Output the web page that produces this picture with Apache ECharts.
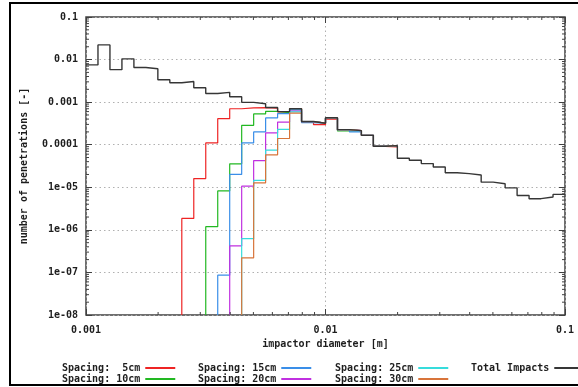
<!DOCTYPE html>
<html>
<head>
<meta charset="utf-8">
<script src="https://cdn.jsdelivr.net/npm/echarts@6/dist/echarts.min.js"></script>
<style>
  html, body { margin: 0; padding: 0; background: #fff; }
  #chart { width: 578px; height: 387px; }
</style>
</head>
<body>
<div id="chart"></div>
<script>
// Histogram binning: 20 logarithmic bins per decade from 1 mm to 10 cm
const binsPerDecade = 20;
const diameterMin = 0.001;
const diameterMax = 0.1;
const penetrationFloor = 1e-8;
const penetrationCeil = 0.1;
const binCount = 40;

// Total impacts per bin
const totalImpacts = [
  0.0075, 0.0221, 0.0058, 0.0104, 0.0065, 0.0061, 0.00335, 0.00285, 0.00306, 0.00217,
  0.0016, 0.0017, 0.00134, 0.00099, 0.00092, 0.00075, 0.00060, 0.0007, 0.00035, 0.00032,
  0.00043, 0.000226, 0.000214, 0.000166, 0.0000918, 0.000095, 0.000048, 0.000043, 0.000036, 0.00003,
  0.0000219, 0.0000209, 0.0000194, 0.0000132, 0.0000121, 0.0000097, 0.0000064, 0.0000054, 0.0000059, 0.0000068
];

// Penetrations per bin for each shield spacing (null = no penetrations)
const spacing5cm = [
  null, null, null, null, null, null, null, null,
  1.86e-6, 1.6e-5, 1.1e-4, 4.1e-4, 7.0e-4, 7.3e-4, 7.4e-4, 7.2e-4, 5.9e-4, 7.1e-4,
  3.5e-4, 2.95e-4, 4.0e-4, 2.26e-4, 2.14e-4, 1.66e-4, 9.18e-5, 8.9e-5
];
const spacing10cm = [
  null, null, null, null, null, null, null, null, null, null,
  1.19e-6, 8.2e-6, 3.55e-5, 2.85e-4, 5.3e-4, 6.1e-4, 5.7e-4, 6.9e-4,
  3.5e-4, 3.2e-4, 4.3e-4, 2.1e-4, 2.14e-4, 1.66e-4, 9.18e-5, 9.5e-5
];
const spacing15cm = [
  null, null, null, null, null, null, null, null, null, null, null,
  8.6e-8, 2.0e-5, 1.1e-4, 2.0e-4, 4.25e-4, 5.4e-4, 6.6e-4,
  3.3e-4, 3.2e-4, 4.3e-4, 2.26e-4, 2.0e-4, 1.66e-4, 9.18e-5, 9.5e-5
];
const spacing20cm = [
  null, null, null, null, null, null, null, null, null, null, null, null,
  4.2e-7, 1.06e-5, 4.25e-5, 1.9e-4, 3.4e-4, 6.2e-4,
  3.5e-4, 3.2e-4, 4.3e-4, 2.26e-4, 2.14e-4, 1.66e-4, 9.18e-5, 9.5e-5
];
const spacing25cm = [
  null, null, null, null, null, null, null, null, null, null, null, null, null,
  6.2e-7, 1.45e-5, 7.5e-5, 2.3e-4, 5.9e-4,
  3.5e-4, 3.2e-4, 4.3e-4, 2.26e-4, 2.14e-4, 1.66e-4, 9.18e-5, 9.5e-5
];
const spacing30cm = [
  null, null, null, null, null, null, null, null, null, null, null, null, null,
  2.2e-7, 1.27e-5, 5.8e-5, 1.4e-4, 5.5e-4,
  3.5e-4, 3.2e-4, 4.3e-4, 2.26e-4, 2.14e-4, 1.66e-4, 9.18e-5, 9.5e-5
];

const seriesNames = [
  'Spacing:  5cm', 'Spacing: 10cm', 'Spacing: 15cm',
  'Spacing: 20cm', 'Spacing: 25cm', 'Spacing: 30cm', 'Total Impacts'
];
const seriesValues = [spacing5cm, spacing10cm, spacing15cm, spacing20cm, spacing25cm, spacing30cm, totalImpacts];
const seriesColors = ['#ee2424', '#22b822', '#3a8ee8', '#c030e0', '#36dcdc', '#d8743a', '#363636'];

// Minor tick multipliers on the log axes
const minorMultipliers = [2, 3, 4, 5, 6, 7, 8, 9];

const binEdges = [];
for (let k = 0; k <= binCount; k++) {
  binEdges.push(diameterMin * Math.pow(10, k / binsPerDecade));
}

// Turn per-bin values into step-line points (left edges, closing right edge)
function histogramPoints(values) {
  const pts = [];
  let first = values.findIndex(v => v !== null);
  let last = first;
  for (let k = first; k < values.length; k++) {
    if (values[k] === null) break;
    last = k;
  }
  if (first > 0) pts.push([binEdges[first], penetrationFloor]);
  for (let k = first; k <= last; k++) pts.push([binEdges[k], values[k]]);
  pts.push([binEdges[last + 1], values[last]]);
  return pts;
}

function decadeLabel(v) {
  const e = Math.round(Math.log10(v));
  if (e >= -4) return Math.pow(10, e).toFixed(-e);
  return '1e-0' + (-e);
}

const xMinorValues = [];
const yMinorValues = [];
for (let d = Math.log10(diameterMin); d < Math.log10(diameterMax); d++) {
  minorMultipliers.forEach(m => xMinorValues.push(m * Math.pow(10, d)));
}
for (let d = Math.log10(penetrationFloor); d < Math.log10(penetrationCeil); d++) {
  minorMultipliers.forEach(m => yMinorValues.push(m * Math.pow(10, d)));
}

const font = 'DejaVu Sans Mono';
const textColor = '#1e1e1e';
const borderColor = '#404040';

const lineSeries = seriesNames.map((name, i) => ({
  name: name,
  type: 'line',
  step: 'end',
  data: histogramPoints(seriesValues[i]),
  showSymbol: false,
  symbol: 'none',
  color: seriesColors[i],
  lineStyle: { width: i === 6 ? 1.4 : 1.2, color: seriesColors[i] },
  z: 3 + i,
  silent: true,
  clip: true
}));

const minorTickSeries = [
  {
    type: 'custom',
    silent: true,
    z: 10,
    data: xMinorValues.map(v => [v, penetrationFloor]),
    renderItem: function (params, api) {
      const cs = params.coordSys;
      const x = api.coord([api.value(0), api.value(1)])[0];
      const style = { stroke: borderColor, lineWidth: 1 };
      return {
        type: 'group',
        children: [
          { type: 'line', shape: { x1: x, y1: cs.y + cs.height, x2: x, y2: cs.y + cs.height - 3 }, style: style },
          { type: 'line', shape: { x1: x, y1: cs.y, x2: x, y2: cs.y + 3 }, style: style }
        ]
      };
    }
  },
  {
    type: 'custom',
    silent: true,
    z: 10,
    data: yMinorValues.map(v => [diameterMin, v]),
    renderItem: function (params, api) {
      const cs = params.coordSys;
      const y = api.coord([api.value(0), api.value(1)])[1];
      const style = { stroke: borderColor, lineWidth: 1 };
      return {
        type: 'group',
        children: [
          { type: 'line', shape: { x1: cs.x, y1: y, x2: cs.x + 3, y2: y }, style: style },
          { type: 'line', shape: { x1: cs.x + cs.width, y1: y, x2: cs.x + cs.width - 3, y2: y }, style: style }
        ]
      };
    }
  }
];

const legendText = { fontFamily: font, fontWeight: 'bold', fontSize: 10, color: textColor, lineHeight: 11 };
function legendColumn(left, names) {
  return {
    left: left, top: 362.5, orient: 'vertical', align: 'right',
    padding: 0, itemGap: 0, itemWidth: 30, itemHeight: 2, icon: 'rect',
    selectedMode: false, data: names, textStyle: legendText
  };
}

const chart = echarts.init(document.getElementById('chart'), null, { renderer: 'canvas' });
chart.setOption({
  animation: false,
  backgroundColor: '#ffffff',
  grid: {
    left: 86, right: 13, top: 17, bottom: 72,
    show: true, borderColor: borderColor, borderWidth: 1.5, backgroundColor: 'transparent'
  },
  xAxis: [
    {
      type: 'log', logBase: 10, min: diameterMin, max: diameterMax,
      name: 'impactor diameter [m]', nameLocation: 'middle', nameGap: 24,
      nameTextStyle: { fontFamily: font, fontWeight: 'bold', fontSize: 10, color: textColor },
      axisLine: { show: false },
      axisTick: { inside: true, length: 6, lineStyle: { color: borderColor, width: 1 } },
      axisLabel: {
        formatter: decadeLabel, margin: 10,
        fontFamily: font, fontWeight: 'bold', fontSize: 10, color: textColor
      },
      splitLine: { show: true, lineStyle: { type: [1.5, 3], color: '#b0b0b0', width: 1 } }
    },
    {
      type: 'log', logBase: 10, min: diameterMin, max: diameterMax, position: 'top',
      axisLine: { show: false },
      axisTick: { inside: true, length: 6, lineStyle: { color: borderColor, width: 1 } },
      axisLabel: { show: false },
      splitLine: { show: false }
    }
  ],
  yAxis: [
    {
      type: 'log', logBase: 10, min: penetrationFloor, max: penetrationCeil,
      name: 'number of penetrations [-]', nameLocation: 'middle', nameGap: 57,
      nameTextStyle: { fontFamily: font, fontWeight: 'bold', fontSize: 10, color: textColor },
      axisLine: { show: false },
      axisTick: { inside: true, length: 6, lineStyle: { color: borderColor, width: 1 } },
      axisLabel: {
        formatter: decadeLabel, margin: 8,
        fontFamily: font, fontWeight: 'bold', fontSize: 10, color: textColor
      },
      splitLine: { show: true, lineStyle: { type: [1.5, 3], color: '#b0b0b0', width: 1 } }
    },
    {
      type: 'log', logBase: 10, min: penetrationFloor, max: penetrationCeil, position: 'right',
      axisLine: { show: false },
      axisTick: { inside: true, length: 6, lineStyle: { color: borderColor, width: 1 } },
      axisLabel: { show: false },
      splitLine: { show: false }
    }
  ],
  legend: [
    legendColumn(62, [seriesNames[0], seriesNames[1]]),
    legendColumn(198, [seriesNames[2], seriesNames[3]]),
    legendColumn(335, [seriesNames[4], seriesNames[5]]),
    legendColumn(471, [seriesNames[6]])
  ],
  graphic: [
    {
      type: 'rect', silent: true, z: 100,
      shape: { x: 10, y: 3, width: 640, height: 382 },
      style: { fill: 'none', stroke: '#000', lineWidth: 2 }
    }
  ],
  series: lineSeries.concat(minorTickSeries)
});
</script>
</body>
</html>
